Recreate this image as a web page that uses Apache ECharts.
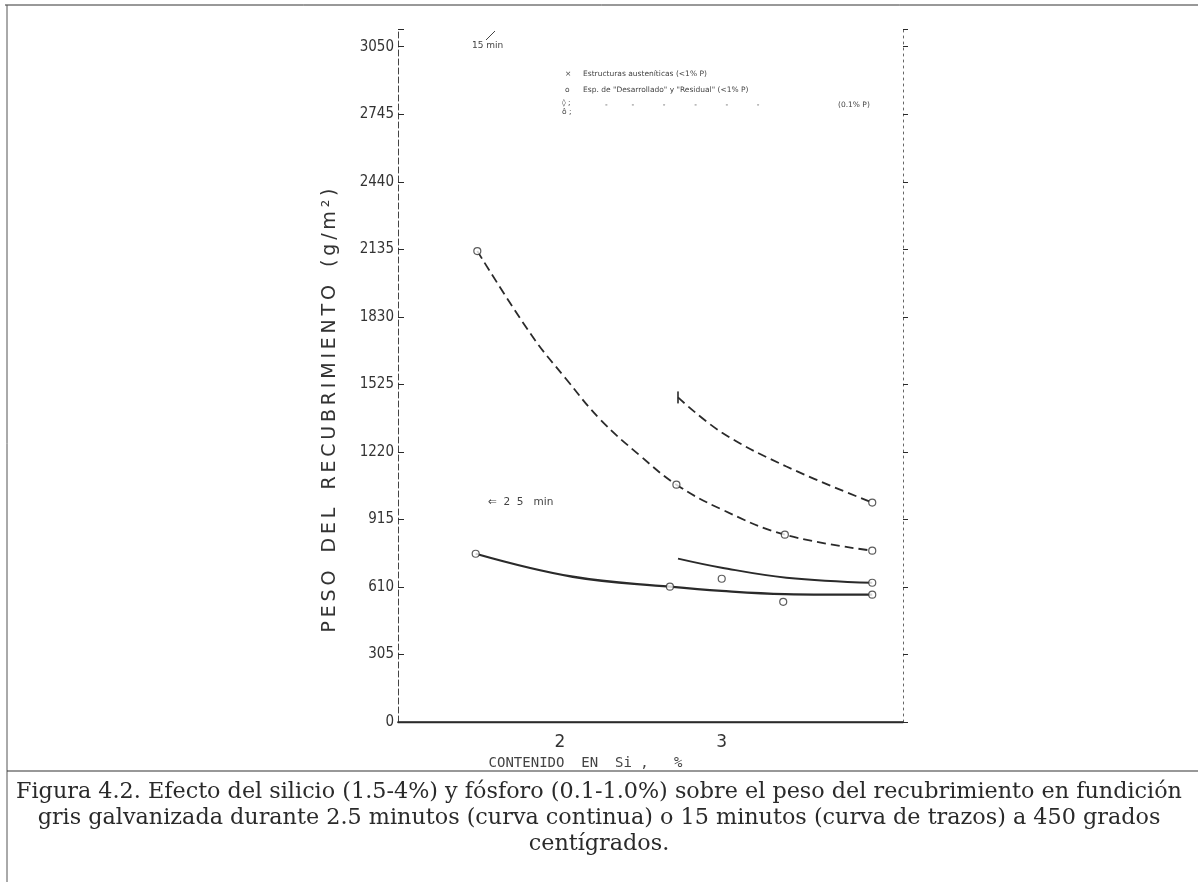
<!DOCTYPE html>
<html>
<head>
<meta charset="utf-8">
<script src="https://cdn.jsdelivr.net/npm/echarts@6/dist/echarts.min.js"></script>
<style>
html,body{margin:0;padding:0;background:#fff;}
#c{width:1198px;height:882px;}
</style>
</head>
<body>
<div id="c"></div>
<script>
// ---- data ----
const xTickValues = [1, 2, 3, 4];
const xTickLabels = ['', '2', '3', ''];
const yTickValues = [0, 305, 610, 915, 1220, 1525, 1830, 2135, 2440, 2745, 3050];
// 15 min (dashed curves)
const dashHighP_Si = [2.73, 3.0, 3.4, 3.93];
const dashHighP_W  = [1466, 1308, 1154, 991];
const dashLowP_Si  = [1.49, 1.83, 2.04, 2.25, 2.5, 2.72, 3.0, 3.39, 3.93];
const dashLowP_W   = [2127, 1742, 1548, 1366, 1200, 1072, 960, 846, 774];
// 2.5 min (solid curves)
const solidHighP_Si = [2.73, 3.0, 3.4, 3.93];
const solidHighP_W  = [738, 697, 652, 629];
const solidLowP_Si  = [1.48, 2.08, 2.68, 3.0, 3.39, 3.93];
const solidLowP_W   = [760, 656, 611, 592, 578, 575];
// open circle symbols
const circleSi = [1.49, 2.72, 3.39, 3.93, 3.93, 1.48, 2.68, 3.93, 3.93, 3.0, 3.38];
const circleW  = [2127, 1072, 846, 774, 991, 760, 611, 629, 575, 647, 543];
// bar symbol
const barSi = [2.73];
const barW  = [1466];

const legendTexts = [
  'Estructuras austeníticas (<1% P)',
  'Esp. de "Desarrollado" y "Residual" (<1% P)',
  '(0.1% P)'
];
const captionLines = [
  'Figura 4.2. Efecto del silicio (1.5-4%) y fósforo (0.1-1.0%) sobre el peso del recubrimiento en fundición',
  'gris galvanizada durante 2.5 minutos (curva continua) o 15 minutos (curva de trazos) a 450 grados',
  'centígrados.'
];
const yAxisWords = ['PESO', 'DEL', 'RECUBRIMIENTO', '(g/m²)'];
const xAxisTitle = 'CONTENIDO  EN  Si ,   %';

function zip(a, b) { return a.map((v, i) => [v, b[i]]); }
// letter-spaced title (thin spaces between letters, wider gaps between words)
const yAxisTitle = yAxisWords.map(w => w.split('').join('\u2009')).join('   ');

const chart = echarts.init(document.getElementById('c'), null, {renderer: 'canvas'});
const ink = '#2a2a2a';
const small = '7.5px "DejaVu Sans"';

const option = {
  backgroundColor: '#fff',
  animation: false,
  grid: {left: 398, top: 29, width: 505, height: 693},
  xAxis: [{
    type: 'value', min: 1, max: 4.12, interval: 1,
    axisLine: {show: true, onZero: false, lineStyle: {color: ink, width: 1.5}},
    axisTick: {show: false},
    splitLine: {show: false},
    axisLabel: {
      color: '#333', fontSize: 17, fontFamily: 'DejaVu Sans', margin: 12,
      formatter: v => { const i = xTickValues.indexOf(v); return i >= 0 ? xTickLabels[i] : ''; }
    },
    name: xAxisTitle, nameLocation: 'middle', nameGap: 34,
    nameTextStyle: {color: '#444', fontSize: 14, fontFamily: 'DejaVu Sans Mono', padding: [0, 130, 0, 0]}
  }, {
    type: 'value', position: 'top', min: 1, max: 4.12,
    axisLine: {show: true, lineStyle: {color: ink, width: 1.3}},
    axisTick: {show: false}, axisLabel: {show: false}, splitLine: {show: false}
  }],
  yAxis: [{
    type: 'value', min: 0, max: 3130, interval: 305,
    axisLine: {show: true, onZero: false, lineStyle: {color: '#444', width: 1, type: [6, 3]}},
    axisTick: {show: true, inside: true, length: 6, lineStyle: {color: ink}},
    splitLine: {show: false},
    axisLabel: {
      color: '#333', fontSize: 15, fontFamily: 'DejaVu Sans Condensed', margin: 4,
      formatter: v => yTickValues.indexOf(v) >= 0 ? String(v) : ''
    },
    name: yAxisTitle, nameLocation: 'middle', nameRotate: 90, nameGap: 58,
    nameTextStyle: {color: '#333', fontSize: 19, fontFamily: 'DejaVu Sans', padding: [0, 70, 0, 0]}
  }, {
    type: 'value', position: 'right', min: 0, max: 3130, interval: 305,
    axisLine: {show: true, lineStyle: {color: '#666', width: 1, type: [2, 4]}},
    axisTick: {show: true, inside: false, length: 5, lineStyle: {color: ink}},
    axisLabel: {show: false}, splitLine: {show: false}
  }],
  series: [
    {
      name: '15 min alto P', type: 'line', smooth: 0.4, showSymbol: false,
      data: zip(dashHighP_Si, dashHighP_W),
      lineStyle: {color: ink, width: 1.8, type: [9, 5]}
    },
    {
      name: '15 min bajo P', type: 'line', smooth: 0.4, showSymbol: false,
      data: zip(dashLowP_Si, dashLowP_W),
      lineStyle: {color: ink, width: 1.8, type: [9, 5]}
    },
    {
      name: '2.5 min alto P', type: 'line', smooth: 0.4, showSymbol: false,
      data: zip(solidHighP_Si, solidHighP_W),
      lineStyle: {color: ink, width: 2}
    },
    {
      name: '2.5 min bajo P', type: 'line', smooth: 0.4, showSymbol: false,
      data: zip(solidLowP_Si, solidLowP_W),
      lineStyle: {color: ink, width: 2.3}
    },
    {
      name: 'puntos', type: 'scatter', symbol: 'circle', symbolSize: 7,
      data: zip(circleSi, circleW),
      itemStyle: {color: '#fff', borderColor: '#333', borderWidth: 1.2}, z: 5
    },
    {
      name: 'barra', type: 'scatter', symbol: 'rect', symbolSize: [2, 12],
      data: zip(barSi, barW),
      itemStyle: {color: ink}, z: 5
    }
  ],
  graphic: [
    // outer frame
    {type: 'line', shape: {x1: 5, y1: 5, x2: 1198, y2: 5}, style: {stroke: '#333', lineWidth: 1}},
    {type: 'line', shape: {x1: 7, y1: 5, x2: 7, y2: 882}, style: {stroke: '#555', lineWidth: 1}},
    {type: 'line', shape: {x1: 7, y1: 771, x2: 1198, y2: 771}, style: {stroke: '#333', lineWidth: 1.2}},
    // caption
    {type: 'text', left: 'center', top: 781, style: {text: captionLines[0], fill: '#2a2a2a', font: '22.3px "DejaVu Serif"', textAlign: 'center'}},
    {type: 'text', left: 'center', top: 807, style: {text: captionLines[1], fill: '#2a2a2a', font: '22.3px "DejaVu Serif"', textAlign: 'center'}},
    {type: 'text', left: 'center', top: 833, style: {text: captionLines[2], fill: '#2a2a2a', font: '22.3px "DejaVu Serif"', textAlign: 'center'}},
    // annotations
    {type: 'text', x: 472, y: 41, style: {text: '15 min', fill: '#444', font: '9px "DejaVu Sans"'}},
    {type: 'line', shape: {x1: 486, y1: 40, x2: 495, y2: 31}, style: {stroke: '#444', lineWidth: 1}},
    {type: 'text', x: 488, y: 497, style: {text: '⇐  2  5   min', fill: '#444', font: '10.5px "DejaVu Sans"'}},
    // legend block
    {type: 'text', x: 565, y: 70, style: {text: '×', fill: '#444', font: small}},
    {type: 'text', x: 583, y: 70, style: {text: legendTexts[0], fill: '#444', font: small}},
    {type: 'text', x: 565, y: 86, style: {text: 'o', fill: '#444', font: small}},
    {type: 'text', x: 583, y: 86, style: {text: legendTexts[1], fill: '#444', font: small}},
    {type: 'text', x: 562, y: 99, style: {text: '◊ ;', fill: '#444', font: small}},
    {type: 'text', x: 562, y: 108, style: {text: 'ô ;', fill: '#444', font: small}},
    {type: 'text', x: 605, y: 101, style: {text: '-          -            -            -            -            -', fill: '#444', font: small}},
    {type: 'text', x: 838, y: 101, style: {text: legendTexts[2], fill: '#444', font: small}}
  ]
};
chart.setOption(option);
</script>
</body>
</html>
